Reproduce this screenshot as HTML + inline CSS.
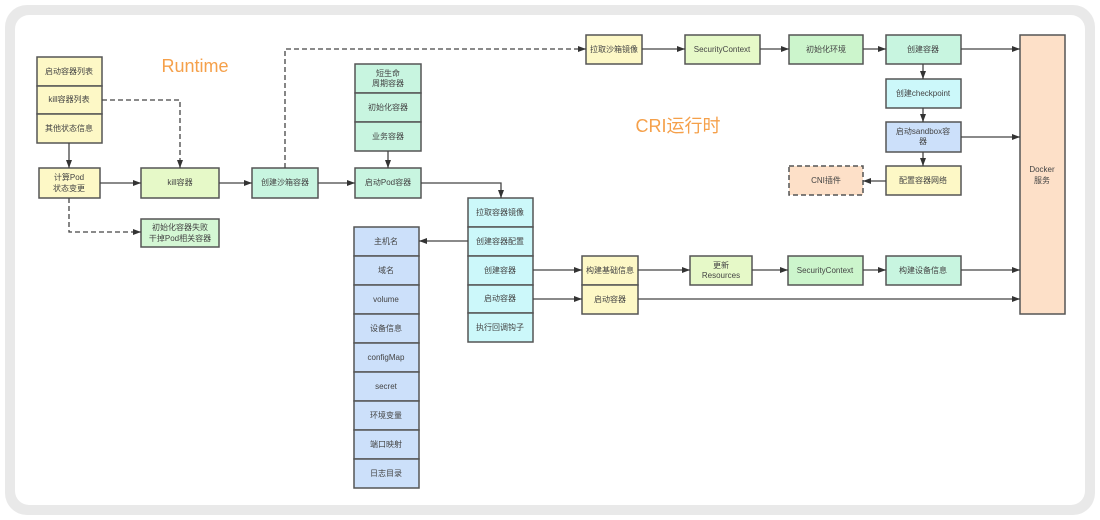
<!DOCTYPE html>
<html><head><meta charset="utf-8"><style>
html,body{margin:0;padding:0;background:#fff;width:1100px;height:520px;overflow:hidden}
.ring{position:absolute;left:5px;top:5px;width:1090px;height:510px;border-radius:22px;background:#e9e9e9}
.card{position:absolute;left:15px;top:15px;width:1070px;height:490px;border-radius:14px;background:#fff}
svg{position:absolute;left:0;top:0}
text{font-family:"Liberation Sans","Noto Sans CJK SC",sans-serif;font-size:8px;fill:#444;text-anchor:middle;dominant-baseline:middle}
.b{stroke:#555;stroke-width:1.5}
.l{stroke:#444;stroke-width:1.3;fill:none}
.d{stroke:#444;stroke-width:1.3;fill:none;stroke-dasharray:5,3}
</style></head><body>
<div class="ring"></div><div class="card"></div>
<svg width="1100" height="520" viewBox="0 0 1100 520">
<defs><marker id="a" markerWidth="8" markerHeight="6" refX="8" refY="3" orient="auto" markerUnits="userSpaceOnUse"><path d="M0,0 L8,3 L0,6z" fill="#333"/></marker></defs>
<g class="b">
<rect x="37" y="57" width="65" height="29" fill="#fdf8c6"/>
<rect x="37" y="86" width="65" height="28" fill="#fdf8c6"/>
<rect x="37" y="114" width="65" height="29" fill="#fdf8c6"/>
<rect x="39" y="168" width="61" height="30" fill="#fdf8c6"/>
<rect x="141" y="168" width="78" height="30" fill="#e6f9c8"/>
<rect x="141" y="219" width="78" height="28" fill="#d4f7d4"/>
<rect x="252" y="168" width="66" height="30" fill="#c8f5e0"/>
<rect x="355" y="168" width="66" height="30" fill="#c8f5e0"/>
<rect x="355" y="64" width="66" height="29" fill="#c8f5e0"/>
<rect x="355" y="93" width="66" height="29" fill="#c8f5e0"/>
<rect x="355" y="122" width="66" height="29" fill="#c8f5e0"/>
<rect x="586" y="35" width="56" height="29" fill="#fdf8c6"/>
<rect x="685" y="35" width="75" height="29" fill="#e6f9c8"/>
<rect x="789" y="35" width="74" height="29" fill="#ccf5cc"/>
<rect x="886" y="35" width="75" height="29" fill="#c8f5e0"/>
<rect x="886" y="79" width="75" height="29" fill="#ccf8fa"/>
<rect x="886" y="122" width="75" height="30" fill="#cce0fa"/>
<rect x="886" y="166" width="75" height="29" fill="#fdf8c6"/>
<rect x="789" y="166" width="74" height="29" fill="#fde0c8" stroke-dasharray="5,3"/>
<rect x="1020" y="35" width="45" height="279" fill="#fde0c8"/>
<rect x="468" y="198" width="65" height="29" fill="#ccf8fa"/>
<rect x="468" y="227" width="65" height="29" fill="#ccf8fa"/>
<rect x="468" y="256" width="65" height="29" fill="#ccf8fa"/>
<rect x="468" y="285" width="65" height="28" fill="#ccf8fa"/>
<rect x="468" y="313" width="65" height="29" fill="#ccf8fa"/>
<rect x="354" y="227" width="65" height="29" fill="#cce0fa"/>
<rect x="354" y="256" width="65" height="29" fill="#cce0fa"/>
<rect x="354" y="285" width="65" height="29" fill="#cce0fa"/>
<rect x="354" y="314" width="65" height="29" fill="#cce0fa"/>
<rect x="354" y="343" width="65" height="29" fill="#cce0fa"/>
<rect x="354" y="372" width="65" height="29" fill="#cce0fa"/>
<rect x="354" y="401" width="65" height="29" fill="#cce0fa"/>
<rect x="354" y="430" width="65" height="29" fill="#cce0fa"/>
<rect x="354" y="459" width="65" height="29" fill="#cce0fa"/>
<rect x="582" y="256" width="56" height="29" fill="#fdf8c6"/>
<rect x="582" y="285" width="56" height="29" fill="#fdf8c6"/>
<rect x="690" y="256" width="62" height="29" fill="#e6f9c8"/>
<rect x="788" y="256" width="75" height="29" fill="#ccf5cc"/>
<rect x="886" y="256" width="75" height="29" fill="#c8f5e0"/>
</g>
<g>
<path class="l" d="M69,143 V168" marker-end="url(#a)"/>
<path class="d" d="M102,100 H180 V168" marker-end="url(#a)"/>
<path class="d" d="M69,198 V232 H141" marker-end="url(#a)"/>
<path class="l" d="M100,183 H141" marker-end="url(#a)"/>
<path class="l" d="M219,183 H252" marker-end="url(#a)"/>
<path class="l" d="M318,183 H355" marker-end="url(#a)"/>
<path class="l" d="M388,151 V168" marker-end="url(#a)"/>
<path class="d" d="M285,168 V49 H586" marker-end="url(#a)"/>
<path class="l" d="M642,49 H685" marker-end="url(#a)"/>
<path class="l" d="M760,49 H789" marker-end="url(#a)"/>
<path class="l" d="M863,49 H886" marker-end="url(#a)"/>
<path class="l" d="M961,49 H1020" marker-end="url(#a)"/>
<path class="l" d="M923,64 V79" marker-end="url(#a)"/>
<path class="l" d="M923,108 V122" marker-end="url(#a)"/>
<path class="l" d="M923,152 V166" marker-end="url(#a)"/>
<path class="l" d="M961,137 H1020" marker-end="url(#a)"/>
<path class="l" d="M886,181 H863" marker-end="url(#a)"/>
<path class="l" d="M421,183 H501 V198" marker-end="url(#a)"/>
<path class="l" d="M468,241 H419" marker-end="url(#a)"/>
<path class="l" d="M533,270 H582" marker-end="url(#a)"/>
<path class="l" d="M533,299 H582" marker-end="url(#a)"/>
<path class="l" d="M638,270 H690" marker-end="url(#a)"/>
<path class="l" d="M752,270 H788" marker-end="url(#a)"/>
<path class="l" d="M863,270 H886" marker-end="url(#a)"/>
<path class="l" d="M961,270 H1020" marker-end="url(#a)"/>
<path class="l" d="M638,299 H1020" marker-end="url(#a)"/>
</g>
<text x="195" y="67" style="font-size:18px;fill:#f5a04a">Runtime</text>
<text x="678" y="127" style="font-size:18px;fill:#f5a04a">CRI运行时</text>
<text x="69" y="72">启动容器列表</text>
<text x="69" y="100">kill容器列表</text>
<text x="69" y="129">其他状态信息</text>
<text x="69" y="178">计算Pod</text><text x="69" y="189">状态变更</text>
<text x="180" y="183">kill容器</text>
<text x="180" y="228">初始化容器失败</text><text x="180" y="239">干掉Pod相关容器</text>
<text x="285" y="183">创建沙箱容器</text>
<text x="388" y="183">启动Pod容器</text>
<text x="388" y="74">短生命</text><text x="388" y="84">周期容器</text>
<text x="388" y="108">初始化容器</text>
<text x="388" y="137">业务容器</text>
<text x="614" y="50">拉取沙箱镜像</text>
<text x="722" y="50">SecurityContext</text>
<text x="826" y="50">初始化环境</text>
<text x="923" y="50">创建容器</text>
<text x="923" y="94">创建checkpoint</text>
<text x="923" y="132">启动sandbox容</text><text x="923" y="142">器</text>
<text x="923" y="181">配置容器网络</text>
<text x="826" y="181">CNI插件</text>
<text x="1042" y="170">Docker</text><text x="1042" y="181">服务</text>
<text x="500" y="213">拉取容器镜像</text>
<text x="500" y="242">创建容器配置</text>
<text x="500" y="271">创建容器</text>
<text x="500" y="299">启动容器</text>
<text x="500" y="328">执行回调钩子</text>
<text x="386" y="242">主机名</text>
<text x="386" y="271">域名</text>
<text x="386" y="300">volume</text>
<text x="386" y="329">设备信息</text>
<text x="386" y="358">configMap</text>
<text x="386" y="387">secret</text>
<text x="386" y="416">环境变量</text>
<text x="386" y="445">端口映射</text>
<text x="386" y="474">日志目录</text>
<text x="610" y="271">构建基础信息</text>
<text x="610" y="300">启动容器</text>
<text x="721" y="266">更新</text><text x="721" y="276">Resources</text>
<text x="825" y="271">SecurityContext</text>
<text x="923" y="271">构建设备信息</text>
</svg>
</body></html>
